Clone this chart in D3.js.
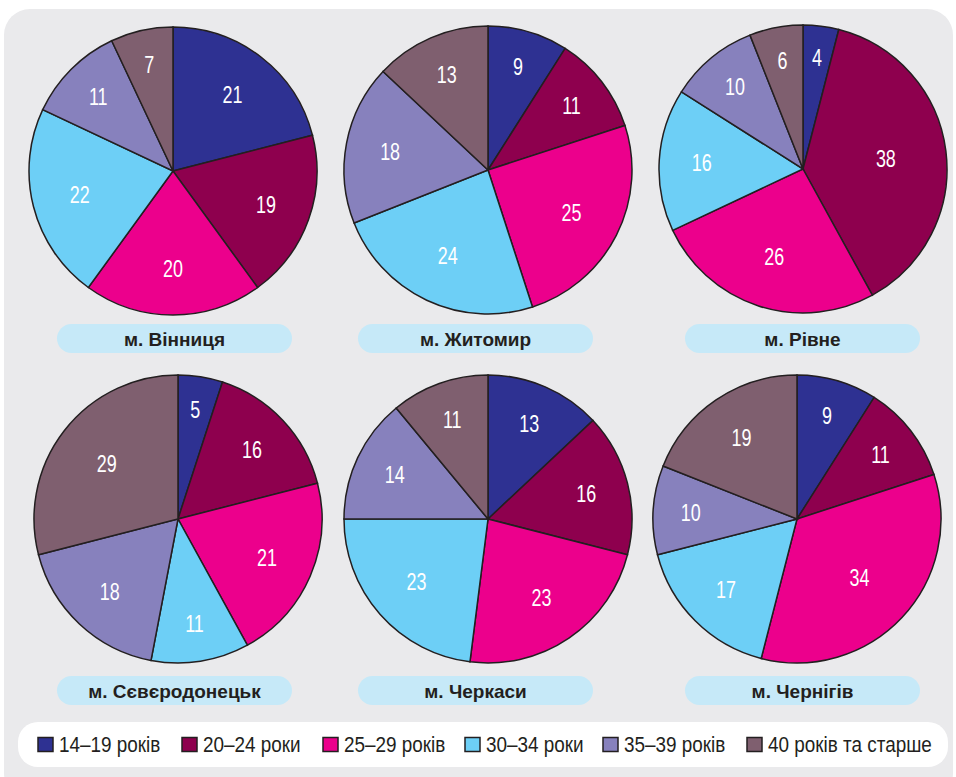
<!DOCTYPE html>
<html lang="uk">
<head>
<meta charset="utf-8" />
<script src="https://d3js.org/d3.v7.min.js"></script>
<style>
  body { margin: 0; background: #fff; }
  svg { display: block; }
  text { font-family: "Liberation Sans", Arial, sans-serif; }
</style>
</head>
<body>
<svg id="chart" width="956" height="777"></svg>
<script>
// --- дані ---
var groups = ["14–19 років", "20–24 роки", "25–29 років", "30–34 роки", "35–39 років", "40 років та старше"];
var colors = ["#2e3192", "#8e004e", "#ec008c", "#6dcff6", "#8781bd", "#7f5f6f"];
var cities = ["м. Вінниця", "м. Житомир", "м. Рівне", "м. Сєвєродонецьк", "м. Черкаси", "м. Чернігів"];
var vinnytsia = [21, 19, 20, 22, 11, 7];
var zhytomyr = [9, 11, 25, 24, 18, 13];
var rivne = [4, 38, 26, 16, 10, 6];
var sievierodonetsk = [5, 16, 21, 11, 18, 29];
var cherkasy = [13, 16, 23, 23, 14, 11];
var chernihiv = [9, 11, 34, 17, 10, 19];
var values = [vinnytsia, zhytomyr, rivne, sievierodonetsk, cherkasy, chernihiv];

// позиції кругів
var R = 144;
var centers = [
  [173, 171], [488, 170], [803, 169],
  [178, 519], [488, 519], [797, 519]
];
var pills = [
  [57, 324], [358, 324], [685, 324],
  [57, 676], [358, 676], [685, 676]
];

var svg = d3.select("#chart");

// фон
svg.append("rect")
  .attr("x", 4).attr("y", 9)
  .attr("width", 949).attr("height", 790)
  .attr("rx", 26)
  .attr("fill", "#eaeaec");

var pie = d3.pie().sort(null).value(function(d) { return d; });
var arc = d3.arc().innerRadius(0).outerRadius(R);

values.forEach(function(vals, i) {
  var c = centers[i];
  var g = svg.append("g").attr("transform", "translate(" + c[0] + "," + c[1] + ")");
  var arcs = pie(vals);

  g.selectAll("path")
    .data(arcs)
    .enter()
    .append("path")
    .attr("d", arc)
    .attr("fill", function(d, j) { return colors[j]; })
    .attr("stroke", "#231f20")
    .attr("stroke-width", 1.5);

  // малі сектори - підпис ближче до краю
  g.selectAll("text")
    .data(arcs)
    .enter()
    .append("text")
    .attr("transform", function(d) {
      var k = Math.max(0.58, 0.8 - 0.006 * d.data) * R;
      var p = d3.arc().innerRadius(k).outerRadius(k).centroid(d);
      return "translate(" + p + ") scale(0.78,1)";
    })
    .attr("text-anchor", "middle")
    .attr("dy", "0.36em")
    .attr("fill", "#fff")
    .style("font-size", "23px")
    .text(function(d) { return d.data; });

  // підпис міста
  var p = pills[i];
  svg.append("rect")
    .attr("x", p[0]).attr("y", p[1])
    .attr("width", 235).attr("height", 29)
    .attr("rx", 14.5)
    .attr("fill", "#c6e9f8");
  svg.append("text")
    .attr("x", p[0] + 117.5).attr("y", p[1] + 15)
    .attr("dy", "0.36em")
    .attr("text-anchor", "middle")
    .attr("fill", "#231f20")
    .style("font-size", "19px")
    .style("font-weight", "bold")
    .text(cities[i]);
});

// легенда
svg.append("rect")
  .attr("x", 18).attr("y", 722)
  .attr("width", 930).attr("height", 45)
  .attr("rx", 20)
  .attr("fill", "#fff");

var legX = [38, 182, 323, 465, 603, 747];
var leg = svg.selectAll(".leg")
  .data(groups)
  .enter()
  .append("g")
  .attr("class", "leg")
  .attr("transform", function(d, i) { return "translate(" + legX[i] + ",744.5)"; });

leg.append("rect")
  .attr("x", 0).attr("y", -7)
  .attr("width", 15).attr("height", 14)
  .attr("fill", function(d, i) { return colors[i]; })
  .attr("stroke", "#231f20")
  .attr("stroke-width", 1.5);

leg.append("text")
  .attr("transform", "translate(21,0) scale(0.86,1)")
  .attr("dy", "0.36em")
  .attr("fill", "#231f20")
  .style("font-size", "22px")
  .text(function(d) { return d; });
</script>
</body>
</html>
